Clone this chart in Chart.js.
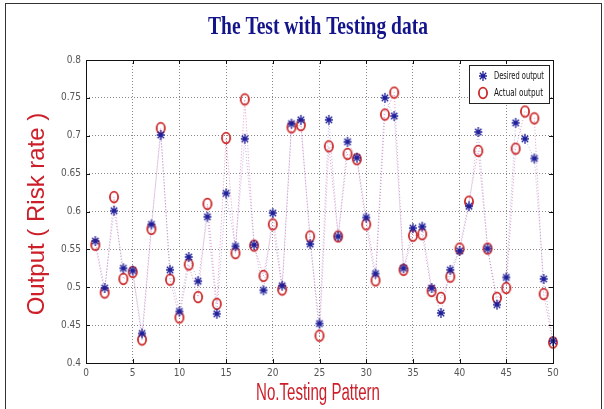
<!DOCTYPE html>
<html>
<head>
<meta charset="utf-8">
<script src="https://cdn.jsdelivr.net/npm/chart.js@4.4.1/dist/chart.umd.min.js"></script>
<style>
    body { margin: 0; background: #fff; }
    #frame { position: absolute; left: 5px; top: 3px; width: 595px; height: 420px; border: 1px solid #333; }
    #chart { position: absolute; left: 0; top: 0; }
</style>
</head>
<body>
<div id="frame"></div>
<canvas id="chart" width="604" height="409"></canvas>
<script>
// Test pattern numbers (x) and the two series
const patterns = [1, 2, 3, 4, 5, 6, 7, 8, 9, 10, 11, 12, 13, 14, 15, 16, 17, 18, 19, 20,
    21, 22, 23, 24, 25, 26, 27, 28, 29, 30, 31, 32, 33, 34, 35, 36, 37, 38, 39, 40,
    41, 42, 43, 44, 45, 46, 47, 48, 49, 50];

const desiredOutput = [0.561, 0.499, 0.601, 0.525, 0.522, 0.439, 0.583, 0.701, 0.523, 0.468,
    0.540, 0.508, 0.593, 0.465, 0.624, 0.554, 0.696, 0.556, 0.496, 0.598,
    0.502, 0.716, 0.721, 0.557, 0.452, 0.721, 0.567, 0.692, 0.671, 0.592,
    0.518, 0.750, 0.726, 0.525, 0.578, 0.580, 0.499, 0.466, 0.523, 0.548,
    0.607, 0.705, 0.551, 0.477, 0.513, 0.717, 0.696, 0.670, 0.511, 0.429];

const actualOutput = [0.556, 0.493, 0.619, 0.511, 0.520, 0.431, 0.577, 0.710, 0.510, 0.460,
    0.530, 0.487, 0.610, 0.478, 0.697, 0.545, 0.748, 0.555, 0.515, 0.583,
    0.497, 0.711, 0.714, 0.567, 0.436, 0.686, 0.567, 0.676, 0.669, 0.583,
    0.509, 0.728, 0.757, 0.523, 0.568, 0.570, 0.495, 0.486, 0.514, 0.551,
    0.613, 0.680, 0.551, 0.486, 0.499, 0.683, 0.732, 0.723, 0.491, 0.427];

const xTicks = [0, 5, 10, 15, 20, 25, 30, 35, 40, 45, 50];
const yTicks = ["0.4", "0.45", "0.5", "0.55", "0.6", "0.65", "0.7", "0.75", "0.8"];

const seriesNames = ["Desired output", "Actual output"];
const chartTitle = "The Test with Testing data";
const xTitle = "No.Testing Pattern";
const yTitle = "Output ( Risk rate )";

const BLUE = "#1f1f9a";
const RED = "#cc2a2a";

// marker images (MATLAB '*' and 'o', slightly squeezed sideways like the picture)
function starMarker(color) {
    const c = document.createElement("canvas");
    c.width = 10; c.height = 12;
    const g = c.getContext("2d");
    g.strokeStyle = color;
    g.lineWidth = 1.3;
    g.beginPath();
    g.moveTo(5, 1); g.lineTo(5, 11);
    g.moveTo(1, 6); g.lineTo(9, 6);
    g.moveTo(1.8, 2.8); g.lineTo(8.2, 9.2);
    g.moveTo(8.2, 2.8); g.lineTo(1.8, 9.2);
    g.stroke();
    return c;
}

function circleMarker(color) {
    const c = document.createElement("canvas");
    c.width = 12; c.height = 14;
    const g = c.getContext("2d");
    g.strokeStyle = color;
    g.lineWidth = 1.8;
    g.beginPath();
    g.ellipse(6, 7, 4.1, 5.3, 0, 0, Math.PI * 2);
    g.stroke();
    return c;
}

const starImg = starMarker(BLUE);
const circleImg = circleMarker(RED);

function drawScaledText(ctx, text, x, y, maxW) {
    const w = ctx.measureText(text).width;
    const s = Math.min(1, maxW / w);
    ctx.save();
    ctx.translate(x, y);
    ctx.scale(s, 1);
    ctx.fillText(text, 0, 0);
    ctx.restore();
}

const decorPlugin = {
    id: "decor",
    afterDraw(chart) {
        const ctx = chart.ctx;
        const a = chart.chartArea;
        const xs = chart.scales.x, ys = chart.scales.y;

        // axes box
        ctx.save();
        ctx.strokeStyle = "#111";
        ctx.lineWidth = 1;
        ctx.strokeRect(Math.round(a.left) + 0.5, Math.round(a.top) + 0.5,
            Math.round(a.right - a.left), Math.round(a.bottom - a.top));

        // inward tick marks on all four sides
        ctx.beginPath();
        xTicks.forEach(v => {
            const px = Math.round(xs.getPixelForValue(v)) + 0.5;
            ctx.moveTo(px, a.bottom); ctx.lineTo(px, a.bottom - 4);
            ctx.moveTo(px, a.top); ctx.lineTo(px, a.top + 4);
        });
        yTicks.forEach(v => {
            const py = Math.round(ys.getPixelForValue(Number(v))) + 0.5;
            ctx.moveTo(a.left, py); ctx.lineTo(a.left + 4, py);
            ctx.moveTo(a.right, py); ctx.lineTo(a.right - 4, py);
        });
        ctx.stroke();

        // legend box
        const lx = 469, ly = 65, lw = 80, lh = 38;
        ctx.fillStyle = "#fff";
        ctx.fillRect(lx, ly, lw, lh);
        ctx.strokeStyle = "#222";
        ctx.strokeRect(lx + 0.5, ly + 0.5, lw, lh);
        ctx.drawImage(starImg, lx + 9, ly + 5);
        ctx.drawImage(circleImg, lx + 8, ly + 21);
        ctx.fillStyle = "#111";
        ctx.font = "10px 'Liberation Sans Narrow', 'DejaVu Sans Condensed', sans-serif";
        ctx.textBaseline = "middle";
        ctx.textAlign = "left";
        drawScaledText(ctx, seriesNames[0], lx + 25, ly + 11, 50);
        drawScaledText(ctx, seriesNames[1], lx + 25, ly + 28, 49);

        // title
        ctx.fillStyle = "#14148a";
        ctx.textAlign = "center";
        ctx.textBaseline = "alphabetic";
        ctx.font = "bold 26px 'Liberation Serif', serif";
        drawScaledText(ctx, chartTitle, 318, 34, 220);

        // x axis title
        ctx.fillStyle = "#cc1f2a";
        ctx.font = "23px 'Liberation Sans', sans-serif";
        drawScaledText(ctx, xTitle, 318, 400, 124);

        // y axis title
        ctx.save();
        ctx.translate(37, 214);
        ctx.rotate(-Math.PI / 2);
        ctx.font = "24px 'Liberation Sans', sans-serif";
        ctx.textBaseline = "middle";
        ctx.fillText(yTitle, 0, 0);
        ctx.restore();
        ctx.restore();
    }
};

const tickFont = { family: "'Liberation Sans Narrow', 'DejaVu Sans Condensed', sans-serif", size: 10 };

new Chart(document.getElementById("chart").getContext("2d"), {
    type: "scatter",
    data: {
        datasets: [
            {
                label: seriesNames[0],
                data: patterns.map((p, i) => ({ x: p, y: desiredOutput[i] })),
                showLine: true,
                borderColor: "rgba(110, 90, 200, 0.45)",
                borderWidth: 1,
                borderDash: [1, 2],
                pointStyle: starImg,
                clip: false
            },
            {
                label: seriesNames[1],
                data: patterns.map((p, i) => ({ x: p, y: actualOutput[i] })),
                showLine: true,
                borderColor: "rgba(210, 70, 150, 0.55)",
                borderWidth: 1,
                borderDash: [1, 2],
                pointStyle: circleImg,
                clip: false
            }
        ]
    },
    options: {
        responsive: false,
        animation: false,
        devicePixelRatio: 1,
        layout: { padding: { top: 60, right: 51, left: 0, bottom: 0 } },
        plugins: { legend: { display: false }, tooltip: { enabled: false } },
        scales: {
            x: {
                type: "linear",
                min: 0, max: 50,
                afterFit: s => { s.height = 46; },
                afterBuildTicks: s => { s.ticks = xTicks.map(v => ({ value: v })); },
                grid: { color: "#8a8a8a", drawTicks: false },
                border: { display: false, dash: [1, 2] },
                ticks: { color: "#555", font: tickFont, padding: 4, maxRotation: 0, callback: v => String(v) }
            },
            y: {
                min: 0.4, max: 0.8,
                afterFit: s => { s.width = 86; },
                afterBuildTicks: s => { s.ticks = yTicks.map(v => ({ value: Number(v) })); },
                grid: { color: "#8a8a8a", drawTicks: false },
                border: { display: false, dash: [1, 2] },
                ticks: {
                    color: "#555", font: tickFont, padding: 5,
                    callback: (v, i) => yTicks[i]
                }
            }
        }
    },
    plugins: [decorPlugin]
});
</script>
</body>
</html>
